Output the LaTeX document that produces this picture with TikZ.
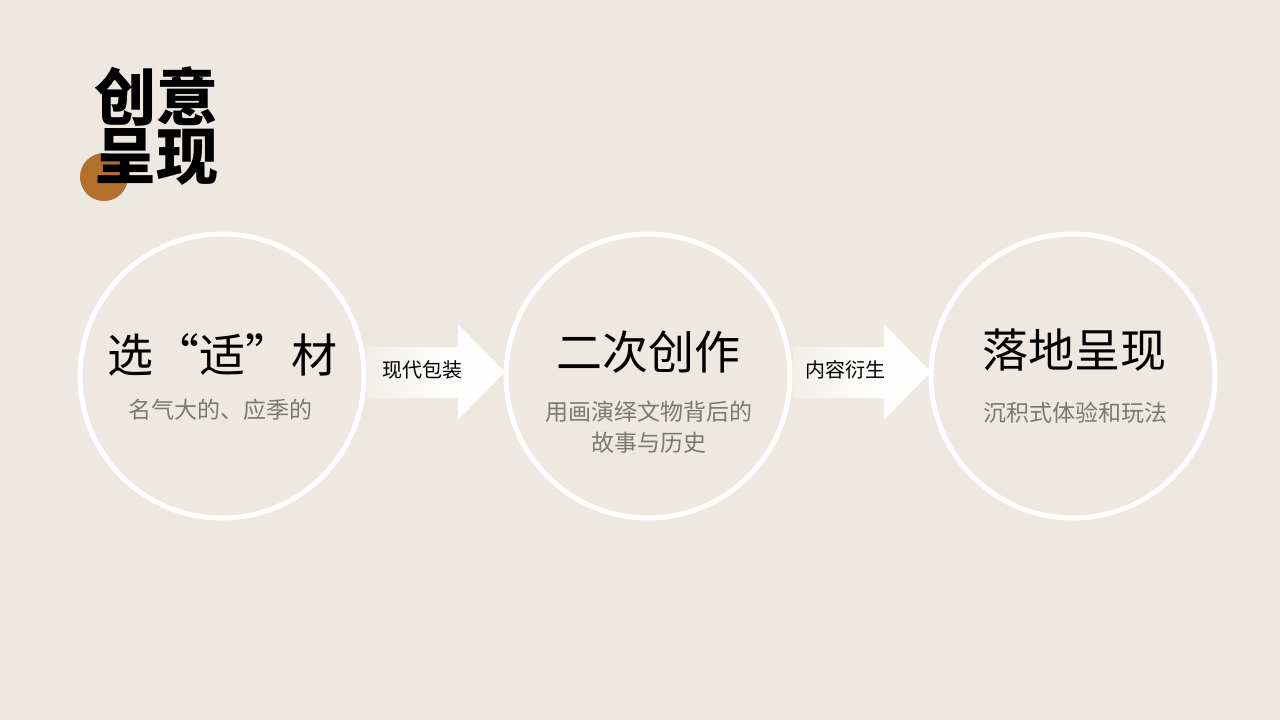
\documentclass[tikz,border=0pt]{standalone}
\usepackage{fontspec}
\newfontfamily\cjk{Noto Sans CJK SC}
\usetikzlibrary{shapes.geometric}
\definecolor{bgc}{HTML}{EDE9E0}
\definecolor{subc}{HTML}{7A7874}
\definecolor{dotc}{HTML}{B36F2C}
\tikzset{
  stepcircle/.style={circle, draw=white, line width=5pt, minimum size=284pt, inner sep=0pt},
  titletext/.style={font=\cjk\fontsize{46}{50}\selectfont, text=black, inner sep=0pt},
  subtext/.style={font=\cjk\fontsize{23}{31}\selectfont, text=subc, align=center, inner sep=0pt},
  arrowlabel/.style={font=\cjk\fontsize{20}{22}\selectfont, text=black, inner sep=0pt},
  arrowshape/.style={left color=white!25!bgc, right color=white, middle color=white!88!bgc, draw=none},
  headtext/.style={font=\cjk\bfseries\fontsize{62}{62}\selectfont, text=black, inner sep=0pt}
}
\begin{document}
\begin{tikzpicture}[x=1pt,y=-1pt]
\fill[bgc] (0,0) rectangle (1280,720);
\useasboundingbox (0,0) rectangle (1280,720);
% heading
\fill[dotc] (104,177) circle (24);
\node[headtext] (h1) at (156,96) {创意};
\node[headtext] (h2) at (156,157) {呈现};
% circles
\node[stepcircle] (c1) at (222,376) {};
\node[stepcircle] (c2) at (648,376) {};
\node[stepcircle] (c3) at (1073,376) {};
% arrows
\shade[arrowshape] (367,347) -- (458,347) -- (458,324) -- (505,372) -- (458,420) -- (458,398) -- (367,398) -- cycle;
\shade[arrowshape] (793,347) -- (884,347) -- (884,324) -- (931,372) -- (884,420) -- (884,398) -- (793,398) -- cycle;
\node[arrowlabel] (a1) at (422,370) {现代包装};
\node[arrowlabel] (a2) at (845,370) {内容衍生};
% texts
\node[titletext] (t1) at (222,355) {选“适”材};
\node[subtext] (s1) at (220,410) {名气大的、应季的};
\node[titletext] (t2) at (648,352) {二次创作};
\node[subtext] (s2) at (649,427) {用画演绎文物背后的\\故事与历史};
\node[titletext] (t3) at (1074,350) {落地呈现};
\node[subtext] (s3) at (1075,413) {沉积式体验和玩法};
\end{tikzpicture}
\end{document}
